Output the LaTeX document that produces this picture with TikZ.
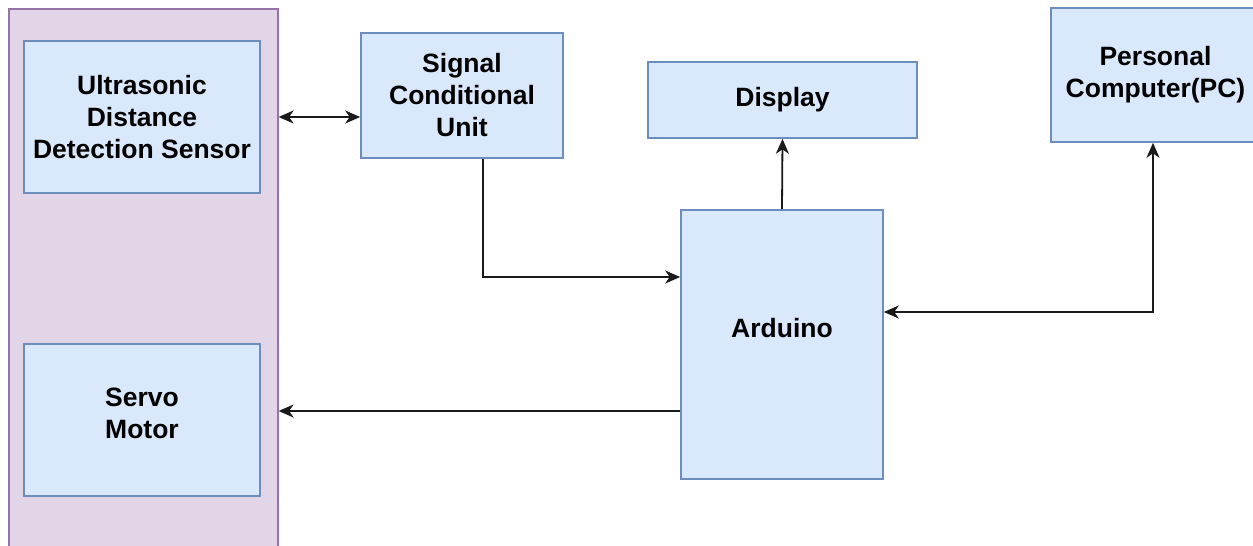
\documentclass[tikz,border=0pt]{standalone}
\usepackage{fontspec}
\setmainfont{Liberation Sans}
\usetikzlibrary{arrows.meta}
\definecolor{boxfill}{HTML}{DAE8FC}
\definecolor{boxline}{HTML}{6C8EBF}
\definecolor{grpfill}{HTML}{E1D5E7}
\definecolor{grpline}{HTML}{9673A6}
\definecolor{linecol}{HTML}{1A1A1A}
\begin{document}
\begin{tikzpicture}[x=1pt,y=-1pt,
  blk/.style={draw=boxline,fill=boxfill,line width=1.6pt,inner sep=0pt,align=center,
    font=\bfseries\fontsize{26.5}{32}\selectfont},
  lbl/.style={inner sep=0pt,align=center,font=\bfseries\fontsize{26.5}{32}\selectfont},
  grp/.style={draw=grpline,fill=grpfill,line width=1.6pt,inner sep=0pt},
  conn/.style={draw=linecol,line width=1.8pt},
  tipr/.style={-{Stealth[length=15pt,width=13pt,inset=4.5pt]}},
  tipb/.style={{Stealth[length=15pt,width=13pt,inset=4.5pt]}-{Stealth[length=15pt,width=13pt,inset=4.5pt]}}]
\useasboundingbox (0,0) rectangle (1253,546);
\fill[white] (0,0) rectangle (1253,546);
\node[grp,minimum width=269pt,minimum height=560pt,anchor=north west] (grp) at (8,8) {};
\node[blk,minimum width=236pt,minimum height=152pt] (uds) at (142,117) {Ultrasonic\\Distance\\Detection Sensor};
\node[blk,minimum width=236pt,minimum height=152pt] (servo) at (142,420) {};
\node[lbl] (servotxt) at (142,413) {Servo\\Motor};
\node[blk,minimum width=202pt,minimum height=125pt] (sig) at (462,95.5) {Signal\\Conditional\\Unit};
\node[blk,minimum width=269pt,minimum height=76pt] (disp) at (782.5,100) {Display};
\node[blk,minimum width=209pt,minimum height=134pt] (pc) at (1155.5,75) {Personal\\Computer(PC)};
\node[blk,minimum width=202pt,minimum height=269pt] (ard) at (782,344.5) {};
\node[lbl] (ardtxt) at (782,328) {Arduino};
\coordinate (c1) at (483,277);
\coordinate (c2) at (1153,312);
\coordinate (c3) at (0,411);
\draw[conn,tipb] (uds.east -| grp.east) -- (uds.east -| sig.west);
\draw[conn,tipr] (c1 |- sig.south) -- (c1) -- (c1 -| ard.west);
\draw[conn,tipr] (ard.north) -- (disp.south);
\draw[conn,tipb] (c2 -| ard.east) -- (c2) -- (c2 |- pc.south);
\draw[conn,tipr] (c3 -| ard.west) -- (c3 -| grp.east);
\end{tikzpicture}
\end{document}
